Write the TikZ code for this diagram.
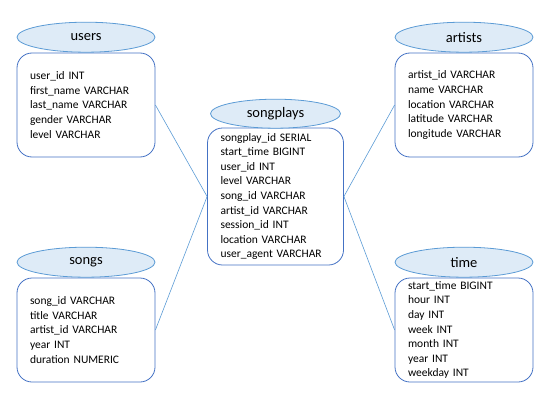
\documentclass[tikz,border=0pt]{standalone}
\usepackage{fontspec}
\setmainfont{Carlito}
\usetikzlibrary{positioning,shapes.geometric}
\definecolor{TitleFill}{HTML}{DEEBF7}
\definecolor{TitleLine}{HTML}{5B9BD5}
\definecolor{BoxLine}{HTML}{4472C4}

\begin{document}
\begin{tikzpicture}[
        x=1pt, y=-1pt, node distance = 0pt,
        TableBox/.style={draw=BoxLine, line width=0.8pt, rounded corners=15pt, text width=112pt, inner xsep=13pt, inner ysep=0pt, align=left, minimum height=104pt, font=\fontsize{11.5}{14.6}\selectfont},
        TableName/.style={ellipse, draw=TitleLine, fill=TitleFill, line width=0.8pt, minimum width=138pt, minimum height=30pt, inner sep=0pt, font=\fontsize{14.5}{16}\selectfont},
        ]
    \useasboundingbox (0,0) rectangle (553,401);
    \node [TableBox] (users) at (86,105) {user\_id INT\\first\_name VARCHAR\\last\_name VARCHAR\\gender VARCHAR\\level VARCHAR};
    \node [TableBox] (artists) at (464,105) {artist\_id VARCHAR\\name VARCHAR\\location VARCHAR\\latitude VARCHAR\\longitude VARCHAR};
    \node [TableBox] (songs) at (86,330) {song\_id VARCHAR\\title VARCHAR\\artist\_id VARCHAR\\year INT\\duration NUMERIC};
    \node [TableBox] (time) at (464,330) {start\_time BIGINT\\hour INT\\day INT\\week INT\\month INT\\year INT\\weekday INT};
    \node [TableBox, text width=110pt, minimum height=137pt] (songplays) at (275.5,196.5) {songplay\_id SERIAL\\start\_time BIGINT\\user\_id INT\\level VARCHAR\\song\_id VARCHAR\\artist\_id VARCHAR\\session\_id INT\\location VARCHAR\\user\_agent VARCHAR};
    \node [TableName, above=0pt of users] (usersT) {users};
    \node [TableName, above=0pt of artists] (artistsT) {artists};
    \node [TableName, above=0pt of songs] (songsT) {songs};
    \node [TableName, above=0pt of time] (timeT) {time};
    \node [TableName, minimum width=130pt, minimum height=29pt, above=-1pt of songplays] (songplaysT) {songplays};
    \begin{scope}[draw=TitleLine, line width=0.6pt]
        \draw (users.east) -- (songplays.west);
        \draw (songs.east) -- (songplays.west);
        \draw (artists.west) -- (songplays.east);
        \draw (time.west) -- (songplays.east);
    \end{scope}
\end{tikzpicture}
\end{document}
